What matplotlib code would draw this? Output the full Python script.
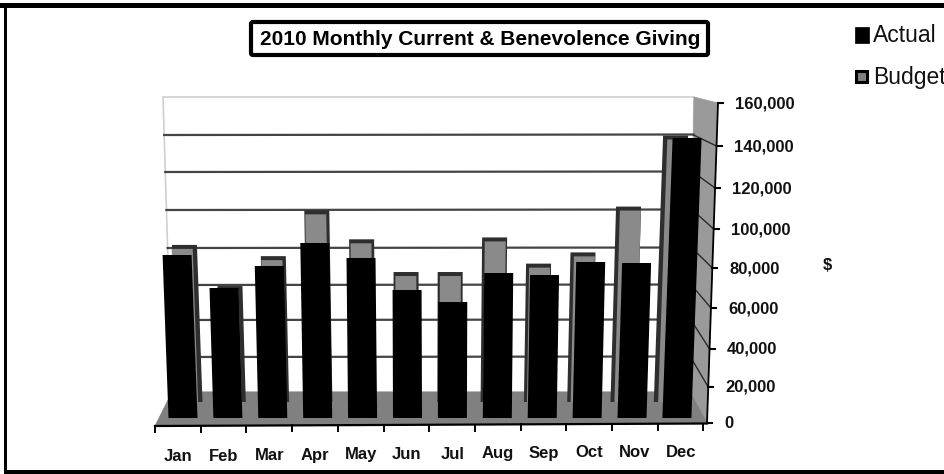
import matplotlib
matplotlib.use("Agg")
import matplotlib.pyplot as plt
from matplotlib.patches import Polygon, Rectangle, FancyBboxPatch
from matplotlib.transforms import Affine2D

plt.rcParams['font.family'] = ['Liberation Sans', 'DejaVu Sans']

months = ["Jan", "Feb", "Mar", "Apr", "May", "Jun", "Jul", "Aug", "Sep", "Oct", "Nov", "Dec"]
actual = [81500, 65000, 76000, 87500, 80000, 64000, 58000, 72500, 71500, 78000, 77500, 140000]
budget = [84000, 62000, 78000, 102500, 87000, 69500, 69500, 88000, 74000, 80000, 104500, 142500]
tick_values = [0, 20000, 40000, 60000, 80000, 100000, 120000, 140000, 160000]
tick_labels = ["0", "20,000", "40,000", "60,000", "80,000", "100,000", "120,000", "140,000", "160,000"]

W, H = 945, 474
fig = plt.figure(figsize=(W / 100, H / 100), dpi=100, facecolor="white")


def plane(x0, dx, y0, sy):
    """Full-figure axes: category i sits at pixel x0+dx*i, value v at y0-sy*v/1000."""
    ax = fig.add_axes([0, 0, 1, 1])
    ax.set_xlim((0 - x0) / dx, (W - x0) / dx)
    ax.set_ylim((y0 - H) / sy * 1000, y0 / sy * 1000)
    ax.axis("off")
    ax.patch.set_alpha(0)
    return ax


pg = fig.add_axes([0, 0, 1, 1])
pg.set_xlim(0, W)
pg.set_ylim(H, 0)
pg.axis("off")

# frame
pg.add_patch(Rectangle((0, 3), W, 5, color="black", lw=0))
pg.add_patch(Rectangle((4, 3), 3, 471, color="black", lw=0))
pg.add_patch(Rectangle((4, 470), W, 4, color="black", lw=0))

# back wall, right wall, floor
pg.add_patch(Polygon([(163, 97), (694, 97), (690, 392), (172, 392)], fc="white", ec="#d0d0d0", lw=1.2, zorder=1))
pg.add_patch(Polygon([(694, 97), (718, 103), (707, 423), (690, 392)], fc="#9a9a9a", ec="#9a9a9a", lw=0.5, zorder=1))
pg.add_patch(Polygon([(172, 392), (690, 392), (707, 423), (155, 426)], fc="#808080", ec="#808080", lw=0.5, zorder=2))

# wall gridlines and right-axis
axis_y = [423, 387, 349, 308, 268, 229, 188, 146, 103]
wall_y = [392, 357, 320, 285, 248, 210, 172, 135, 97]
def left_edge(y):
    return 163 + (y - 97) / (392 - 97) * 9
def right_edge(y):
    return 694 - (y - 97) / (392 - 97) * 4
def axis_x(y):
    return 707 + (423 - y) / (423 - 103) * 11
for wy, ay, lab in zip(wall_y, axis_y, tick_labels):
    if wy not in (392, 97):
        pg.plot([left_edge(wy), right_edge(wy)], [wy, wy - 0.5], color="#444444", lw=1.6, zorder=1.5)
        pg.plot([right_edge(wy), axis_x(ay)], [wy, ay], color="#2a2a2a", lw=1.0, zorder=1.5)
    ax_x = axis_x(ay)
    pg.plot([ax_x, ax_x + 5], [ay, ay], color="black", lw=1.5, zorder=3)
    pg.text(ax_x + 17, ay + 0.5, lab, ha="left", va="center", fontsize=12, fontweight="bold", color="#111111", zorder=3)
pg.plot([axis_x(423), axis_x(103)], [423, 103], color="black", lw=1.3, zorder=3)

# floor front edge, ticks and month labels
pg.plot([155, 707], [426, 423.5], color="black", lw=1.6, zorder=3)
for i in range(13):
    tx = 155 + i * 45.7
    ty = 426 - i * 0.2
    pg.plot([tx, tx], [ty, ty + 6], color="black", lw=1.4, zorder=3)
for i, m in enumerate(months):
    pg.text(178 + i * 45.7, 456.5 - i * 0.4, m, ha="center", va="center", fontsize=12, fontweight="bold", color="#111111", zorder=3)

pg.text(827, 266, "$", ha="center", va="center", fontsize=12, fontweight="bold", color="#111111")

# title box
pg.add_patch(FancyBboxPatch((251, 22), 457, 33, boxstyle="round,pad=0,rounding_size=2",
                            fc="white", ec="black", lw=3))
pg.text(480, 39, "2010 Monthly Current & Benevolence Giving", ha="center", va="center",
        fontsize=15, fontweight="bold", color="black")

# legend
pg.add_patch(Rectangle((855, 27), 14, 16, fc="black", ec="black", lw=0.5))
pg.text(873, 35, "Actual", ha="left", va="center", fontsize=16.5, color="#111111")
pg.add_patch(Rectangle((856, 71), 11, 11, fc="#808080", ec="black", lw=2.2))
pg.text(873, 77, "Budget", ha="left", va="center", fontsize=16.5, color="#111111", clip_on=False)


def lean(ax, patch, cx_px, dx, sy):
    """Perspective lean of a bar: top moves away from the chart centre."""
    k = (cx_px - 430) / 251 * 0.037
    m = [[1, k * sy / 1000 / dx, 0], [0, 1, 0], [0, 0, 1]]
    patch.set_transform(Affine2D(m) + ax.transData)


# Budget bars, set back from the front plane
bx0, bdx, by0, bsy = 190, 43.3, 402, 1.87
ab = plane(bx0, bdx, by0, bsy)
xs = list(range(12))
cap = 4 / bsy * 1000
dark = ab.bar(xs, budget, width=25 / bdx, color="#2e2e2e", linewidth=0, zorder=2)
for i, r in enumerate(dark):
    lean(ab, r, bx0 + bdx * i, bdx, bsy)
shift = [(bx0 + bdx * i - 430) / 251 * 2.5 / bdx for i in xs]
face = ab.bar([x + s for x, s in zip(xs, shift)], [b - cap for b in budget],
              width=21 / bdx, color="#8a8a8a", linewidth=0, zorder=3)
for i, r in enumerate(face):
    lean(ab, r, bx0 + bdx * i, bdx, bsy)

# Actual bars, on the front plane
ax0, adx, ay0, asy = 183, 44.9, 418, 2.0
aa = plane(ax0, adx, ay0, asy)
front = aa.bar(xs, actual, width=29 / adx, color="black", linewidth=0, zorder=4)
for i, r in enumerate(front):
    lean(aa, r, ax0 + adx * i, adx, asy)

fig.savefig("out.png", dpi=100)
